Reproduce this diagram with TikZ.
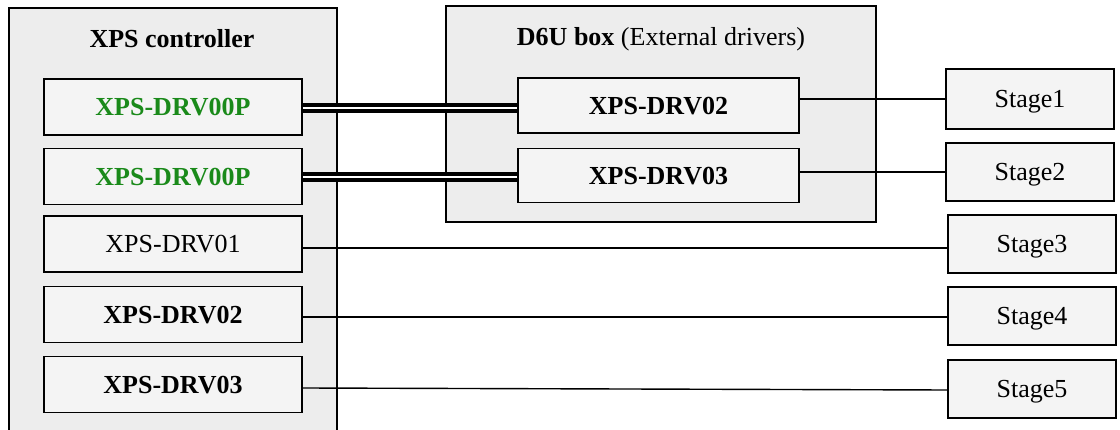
\documentclass[tikz,border=0pt]{standalone}
\usepackage{fontspec}
\setmainfont{Liberation Serif}
\definecolor{outerfill}{HTML}{EDEDED}
\definecolor{innerfill}{HTML}{F4F4F4}
\definecolor{drvgreen}{HTML}{1A8A1A}
\newcommand{\bigfont}{\fontsize{26}{30}\selectfont}
\begin{document}
\begin{tikzpicture}[x=1pt,y=-1pt,
  container/.style={draw=black, line width=1.5pt, fill=outerfill},
  drv/.style={draw=black, line width=1.5pt, fill=innerfill, rectangle, inner sep=0pt,
    text depth=0pt, font=\bigfont},
  bolddrv/.style={drv, font=\bigfont\bfseries},
  xdrv/.style={minimum width=258pt, minimum height=56pt},
  stagebox/.style={drv, minimum width=168pt, minimum height=58pt},
  wire/.style={line width=1.4pt},
  dwire/.style={line width=4.2pt, draw=black, double=white, double distance=1.8pt}
]
\useasboundingbox (0,0) rectangle (1120,430);
\clip (0,0) rectangle (1120,430);
% containers
\draw[container] (9,445) -- (9,8) -- (337,8) -- (337,445);
\node[font=\bigfont\bfseries] (xpstitle) at (172,39) {XPS controller};
\draw[container] (446,6) rectangle (876,222);
\node[font=\bigfont] (d6utitle) at (661,39) {\textbf{D6U box} (External drivers)};
% XPS drivers
\node[bolddrv, xdrv, text=drvgreen] (x1) at (173,107) {XPS-DRV00P};
\node[bolddrv, xdrv, text=drvgreen] (x2) at (173,176.5) {XPS-DRV00P};
\node[drv, xdrv] (x3) at (173,244) {XPS-DRV01};
\node[bolddrv, xdrv] (x4) at (173,314.5) {XPS-DRV02};
\node[bolddrv, xdrv] (x5) at (173,384.5) {XPS-DRV03};
% D6U drivers
\node[bolddrv, minimum width=281pt, minimum height=55pt] (d2) at (658.5,105.5) {XPS-DRV02};
\node[bolddrv, minimum width=281pt, minimum height=54pt] (d3) at (658.5,175.5) {XPS-DRV03};
% stages
\node[stagebox, minimum height=60pt] (s1) at (1030,99) {Stage1};
\node[stagebox] (s2) at (1030,172) {Stage2};
\node[stagebox] (s3) at (1032,244) {Stage3};
\node[stagebox] (s4) at (1032,316) {Stage4};
\node[stagebox] (s5) at (1032,389) {Stage5};
% connectors
\draw[dwire] (x1.east |- 0,108) -- (d2.west |- 0,108);
\draw[dwire] (x2.east |- 0,177) -- (d3.west |- 0,177);
\draw[wire] (d2.east |- s1.west) -- (s1.west);
\draw[wire] (d3.east |- s2.west) -- (s2.west);
\draw[wire] (x3.east |- 0,248) -- (s3.west |- 0,248);
\draw[wire] (x4.east |- 0,317) -- (s4.west |- 0,317);
\draw[wire] (x5.east |- 0,388) -- (s5.west |- 0,390);
\end{tikzpicture}
\end{document}
